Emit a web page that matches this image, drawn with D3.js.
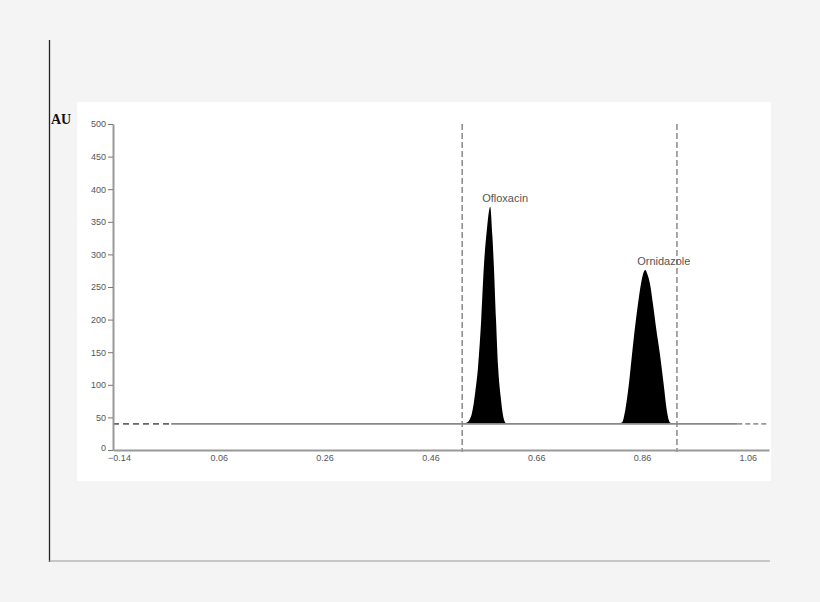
<!DOCTYPE html>
<html>
<head>
<meta charset="utf-8">
<script src="https://cdn.jsdelivr.net/npm/d3@7"></script>
<style>
  body { margin: 0; background: #f4f4f4; }
</style>
</head>
<body>
<div id="chart"></div>
<script>
// data (Rf vs AU)
var yTicks = [0, 50, 100, 150, 200, 250, 300, 350, 400, 450, 500];
var xTicks = [-0.14, 0.06, 0.26, 0.46, 0.66, 0.86, 1.06];
var baselineAU = 40;

var traceRf = [-0.14, 0.520, 0.529, 0.538, 0.545, 0.550, 0.556, 0.561, 0.567, 0.573,
               0.577, 0.580, 0.584, 0.588, 0.593, 0.598, 0.603, 0.610,
               0.810, 0.822, 0.828, 0.835, 0.841, 0.847, 0.852, 0.858, 0.862, 0.866,
               0.870, 0.875, 0.881, 0.887, 0.894, 0.901, 0.907, 0.913, 0.920, 1.10];
var traceAU = [40, 40, 42, 55, 90, 127, 200, 281, 340, 373,
               330, 281, 200, 127, 80, 50, 41, 40,
               40, 42, 60, 100, 146, 190, 222, 255, 270, 276,
               270, 255, 222, 185, 146, 100, 60, 42, 40, 40];

var peakNames = ["Ofloxacin", "Ornidazole"];
var peakRf = [0.573, 0.866];
var peakAU = [373, 276];
var windowRf = [0.520, 0.926];

var W = 820, H = 602;
var svg = d3.select("#chart").append("svg")
    .attr("width", W)
    .attr("height", H);

// white plot panel and outer frame lines
svg.append("rect")
    .attr("x", 77).attr("y", 102)
    .attr("width", 694).attr("height", 379)
    .attr("fill", "#ffffff");

svg.append("line")
    .attr("x1", 49.5).attr("x2", 49.5)
    .attr("y1", 40).attr("y2", 562)
    .attr("stroke", "#222").attr("stroke-width", 1.3);
svg.append("line")
    .attr("x1", 49).attr("x2", 770)
    .attr("y1", 561).attr("y2", 561)
    .attr("stroke", "#999").attr("stroke-width", 1);

var x = d3.scaleLinear().domain([-0.14, 1.10]).range([113, 769]);
var y = d3.scaleLinear().domain([0, 500]).range([450, 124]);

// window markers
svg.selectAll("line.win")
  .data(windowRf)
  .enter()
  .append("line")
    .attr("class", "win")
    .attr("x1", function(d) { return x(d); })
    .attr("x2", function(d) { return x(d); })
    .attr("y1", y(500))
    .attr("y2", y(0) + 2)
    .attr("stroke", "#777")
    .attr("stroke-width", 1.3)
    .attr("stroke-dasharray", "6,3");

var pts = traceRf.map(function(d, i) { return [d, traceAU[i]]; });

// filled peaks
svg.append("path")
    .datum(pts)
    .attr("fill", "#000")
    .attr("d", d3.area()
        .x(function(d) { return x(d[0]); })
        .y0(y(baselineAU))
        .y1(function(d) { return y(d[1]); })
        .curve(d3.curveMonotoneX));

// baseline
svg.append("line")
    .attr("x1", x(-0.14)).attr("x2", x(-0.03))
    .attr("y1", y(baselineAU)).attr("y2", y(baselineAU))
    .attr("stroke", "#666").attr("stroke-width", 1.8)
    .attr("stroke-dasharray", "6,4");
svg.append("line")
    .attr("x1", x(-0.03)).attr("x2", x(1.04))
    .attr("y1", y(baselineAU)).attr("y2", y(baselineAU))
    .attr("stroke", "#888").attr("stroke-width", 1.8);
svg.append("line")
    .attr("x1", x(1.04)).attr("x2", x(1.10))
    .attr("y1", y(baselineAU)).attr("y2", y(baselineAU))
    .attr("stroke", "#999").attr("stroke-width", 1.8)
    .attr("stroke-dasharray", "5,3");

// y axis
var yAxis = svg.append("g")
    .attr("transform", "translate(" + x(-0.14) + ",0)")
    .call(d3.axisLeft(y).tickValues(yTicks).tickSize(5).tickSizeOuter(0).tickPadding(2));
yAxis.select(".domain").attr("stroke", "#999").attr("stroke-width", 2);
yAxis.selectAll(".tick line").attr("stroke", "#777");
yAxis.selectAll("text")
    .attr("font-family", "Arial, 'Liberation Sans', sans-serif")
    .attr("font-size", 9)
    .attr("fill", "#555");
// lift the "0" label a little so it clears the first x label
yAxis.selectAll(".tick").filter(function(d) { return d === 0; })
  .select("text").attr("dy", "0.1em");

// x axis
var xAxis = svg.append("g")
    .attr("transform", "translate(0," + y(0) + ")")
    .call(d3.axisBottom(x).tickValues(xTicks).tickFormat(d3.format(".2f"))
        .tickSize(0).tickSizeOuter(0).tickPadding(5));
xAxis.select(".domain").attr("stroke", "#999").attr("stroke-width", 2);
xAxis.selectAll("text")
    .attr("font-family", "Arial, 'Liberation Sans', sans-serif")
    .attr("font-size", 9)
    .attr("fill", "#555");
xAxis.selectAll(".tick").filter(function(d) { return d === xTicks[0]; })
  .select("text").attr("dx", 6);

// peak labels
svg.selectAll("text.peak")
  .data(peakNames)
  .enter()
  .append("text")
    .attr("class", "peak")
    .attr("x", function(d, i) { return x(peakRf[i]) - 8; })
    .attr("y", function(d, i) { return y(peakAU[i]) - 5; })
    .attr("font-family", "Arial, 'Liberation Sans', sans-serif")
    .attr("font-size", 11)
    .attr("fill", "#555")
    .text(function(d) { return d; });

// AU label
svg.append("text")
    .attr("x", 51).attr("y", 124)
    .attr("font-family", "'Liberation Serif', 'Times New Roman', serif")
    .attr("font-weight", "bold")
    .attr("font-size", 14)
    .attr("fill", "#111")
    .text("AU");
</script>
</body>
</html>
